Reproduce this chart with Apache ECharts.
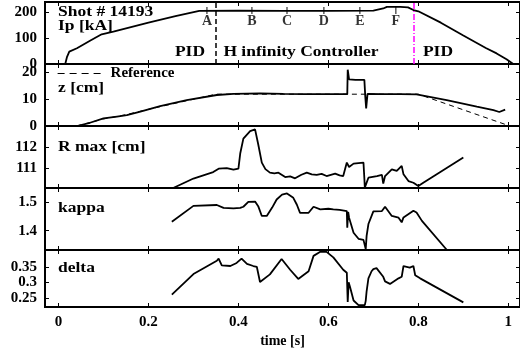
<!DOCTYPE html>
<html>
<head>
<meta charset="utf-8">
<script src="https://cdn.jsdelivr.net/npm/echarts@6/dist/echarts.min.js"></script>
<style>
  html, body { margin: 0; padding: 0; background: #fff; }
  #chart { width: 520px; height: 349px; }
</style>
</head>
<body>
<div id="chart"></div>
<script>
// tick labels
const xTicks = [0, 0.2, 0.4, 0.6, 0.8, 1]
const ipTicks = [0, 100, 200]
const zTicks = [0, 10, 20]
const rTicks = [111, 112]
const kTicks = [1.4, 1.5]
const dTicks = [0.25, 0.3, 0.35]

// [time s, value]
const ipData = [[0.015,0],[0.019,28],[0.024,48],[0.026,44],[0.028,54],[0.041,61],[0.07,90],[0.096,115],[0.122,125],[0.2,160],[0.26,185],[0.313,206],[0.4,207],[0.5,206],[0.6,206],[0.7,207],[0.722,215],[0.73,221],[0.76,221],[0.777,219],[0.789,209],[0.8,204],[0.85,160],[0.9,110],[0.95,62],[0.974,41],[0.996,18],[1.011,0]]
const zData = [[0.041,0],[0.07,1.2],[0.1,2.8],[0.13,3.5],[0.152,4.0],[0.18,5.2],[0.226,7.4],[0.285,9.6],[0.352,11.5],[0.389,11.9],[0.448,12.1],[0.5,11.9],[0.55,11.8],[0.6,11.8],[0.642,11.8],[0.643,20.9],[0.646,17.3],[0.66,17.1],[0.68,17.1],[0.682,11],[0.684,6.5],[0.687,11.9],[0.72,11.8],[0.76,11.8],[0.796,11.7],[0.863,9.6],[0.93,7.2],[0.967,5.9],[0.98,5.2],[0.993,6.1]]
const refData = [[0.04,0],[0.1,2.6],[0.15,4.2],[0.2,6.2],[0.35,11.8],[0.8,11.8],[1.0,0.2]]
const rData = [[0.255,110.05],[0.3,110.5],[0.344,110.81],[0.356,110.97],[0.374,111.0],[0.389,110.92],[0.4,110.97],[0.404,111.69],[0.411,112.4],[0.426,112.76],[0.437,112.84],[0.441,112.84],[0.444,112.13],[0.452,111.26],[0.46,110.95],[0.47,110.78],[0.48,110.75],[0.489,110.78],[0.504,110.57],[0.515,110.6],[0.526,110.51],[0.54,110.68],[0.552,110.78],[0.563,110.7],[0.574,110.67],[0.585,110.72],[0.596,110.62],[0.615,110.73],[0.625,110.65],[0.633,110.62],[0.636,110.7],[0.641,111.26],[0.646,111.05],[0.656,111.21],[0.678,111.26],[0.68,110.5],[0.681,110.07],[0.684,110.07],[0.689,110.54],[0.708,110.62],[0.719,110.67],[0.722,110.26],[0.726,110.62],[0.741,110.94],[0.752,110.86],[0.763,111.1],[0.767,110.7],[0.778,110.38],[0.789,110.3],[0.8,110.14],[0.804,110.22],[0.811,110.3],[0.9,111.5]]
const kData = [[0.252,1.431],[0.3,1.486],[0.352,1.489],[0.356,1.494],[0.367,1.479],[0.389,1.477],[0.404,1.479],[0.411,1.483],[0.422,1.5],[0.437,1.501],[0.444,1.485],[0.452,1.451],[0.463,1.451],[0.475,1.48],[0.485,1.508],[0.497,1.525],[0.508,1.529],[0.522,1.514],[0.53,1.49],[0.537,1.462],[0.556,1.462],[0.567,1.483],[0.582,1.474],[0.6,1.476],[0.611,1.474],[0.625,1.472],[0.641,1.468],[0.642,1.41],[0.644,1.465],[0.646,1.445],[0.656,1.393],[0.667,1.372],[0.678,1.368],[0.682,1.37],[0.683,1.336],[0.685,1.382],[0.689,1.423],[0.7,1.467],[0.704,1.468],[0.719,1.468],[0.726,1.483],[0.741,1.451],[0.756,1.445],[0.759,1.44],[0.763,1.429],[0.767,1.446],[0.789,1.469],[0.796,1.463],[0.808,1.434],[0.863,1.334]]
const dData = [[0.252,0.26],[0.3,0.327],[0.352,0.37],[0.356,0.377],[0.363,0.355],[0.382,0.353],[0.396,0.363],[0.407,0.377],[0.419,0.36],[0.433,0.353],[0.441,0.35],[0.448,0.301],[0.47,0.326],[0.496,0.376],[0.515,0.341],[0.533,0.311],[0.556,0.336],[0.567,0.386],[0.582,0.399],[0.596,0.399],[0.611,0.381],[0.633,0.341],[0.641,0.331],[0.643,0.236],[0.645,0.3],[0.648,0.286],[0.656,0.241],[0.667,0.226],[0.681,0.226],[0.683,0.24],[0.685,0.271],[0.689,0.313],[0.696,0.336],[0.7,0.343],[0.707,0.346],[0.722,0.318],[0.726,0.303],[0.737,0.295],[0.756,0.313],[0.763,0.318],[0.767,0.353],[0.781,0.348],[0.789,0.353],[0.793,0.323],[0.804,0.313],[0.9,0.235]]

// controller phases
const markNames = ['A', 'B', 'C', 'D', 'E', 'F']
const markTimes = [0.33, 0.43, 0.508, 0.59, 0.67, 0.75]
const markLevel = 207
const hinfStart = 0.35
const pidReturn = 0.79

const font = '"Liberation Serif", "Times New Roman", serif'
const tops = [2, 64, 126, 188, 250]
const ranges = [[0, 240], [0, 23], [110.05, 113], [1.333, 1.548], [0.22, 0.405]]
const yTicks = [ipTicks, zTicks, rTicks, kTicks, dTicks]

const grid = [], xAxis = [], yAxis = []
tops.forEach((top, i) => {
  grid.push({ left: 45, right: 0, top: top, height: 62, show: true, borderColor: '#000', borderWidth: 2 })
  const last = i === tops.length - 1
  const tick = { inside: true, length: 4, lineStyle: { color: '#000', width: 1 }, customValues: xTicks }
  const noLine = { show: false, onZero: false }
  xAxis.push({
    type: 'value', gridIndex: i, min: -0.03, max: 1.026, position: 'bottom',
    axisLine: noLine, splitLine: { show: false }, axisTick: tick,
    axisLabel: { show: last, customValues: xTicks, margin: 8, color: '#000', fontFamily: font, fontWeight: 'bold', fontSize: 15 },
    name: last ? 'time [s]' : '', nameLocation: 'middle', nameGap: 27,
    nameTextStyle: { color: '#000', fontFamily: font, fontWeight: 'bold', fontSize: 14 },
  })
  xAxis.push({
    type: 'value', gridIndex: i, min: -0.03, max: 1.026, position: 'top',
    axisLine: noLine, splitLine: { show: false }, axisTick: tick, axisLabel: { show: false },
  })
  const ytick = { inside: true, length: 4, lineStyle: { color: '#000', width: 1 }, customValues: yTicks[i] }
  yAxis.push({
    type: 'value', gridIndex: i, min: ranges[i][0], max: ranges[i][1], position: 'left',
    axisLine: noLine, splitLine: { show: false }, axisTick: ytick,
    axisLabel: { customValues: yTicks[i], margin: 8, color: '#000', fontFamily: font, fontWeight: 'bold', fontSize: 15 },
  })
  yAxis.push({
    type: 'value', gridIndex: i, min: ranges[i][0], max: ranges[i][1], position: 'right',
    axisLine: noLine, splitLine: { show: false }, axisTick: ytick, axisLabel: { show: false },
  })
})

const line = (name, data, i, extra) => Object.assign({
  name: name, type: 'line', data: data, xAxisIndex: 2 * i, yAxisIndex: 2 * i,
  symbol: 'none', animation: false, color: '#000', lineStyle: { color: '#000', width: 1.8 },
}, extra || {})

const txt = (text, x, y, align) => ({
  type: 'text', x: x, y: y, scaleX: 1.25,
  style: { text: text, fill: '#000', font: 'bold 14px ' + font, textAlign: align || 'left', textVerticalAlign: 'middle' },
})

const option = {
  animation: false,
  grid: grid,
  xAxis: xAxis,
  yAxis: yAxis,
  legend: {
    data: ['Reference'], left: 57, top: 66, itemWidth: 48, itemHeight: 10, itemGap: 6, padding: 0,
    itemStyle: { opacity: 0 },
    lineStyle: { type: [7, 5], width: 1.2 },
    textStyle: { color: '#000', fontFamily: font, fontWeight: 'bold', fontSize: 15 },
  },
  series: [
    line('Ip', ipData, 0, {
      markLine: {
        symbol: 'none', silent: true, label: { show: false },
        data: [
          { xAxis: hinfStart, lineStyle: { color: '#000', type: [5, 3], width: 1.5 } },
          { xAxis: pidReturn, lineStyle: { color: '#ff00ff', type: [6, 2, 1, 2], width: 1.5 } },
        ],
      },
    }),
    {
      name: 'marks', type: 'scatter', xAxisIndex: 0, yAxisIndex: 0, symbol: 'rect', symbolSize: [1.2, 7],
      itemStyle: { color: '#000' }, animation: false,
      data: markTimes.map((t, k) => ({ value: [t, markLevel], name: markNames[k] })),
      label: { show: true, position: 'bottom', distance: 0, formatter: '{b}', color: '#000', fontFamily: font, fontWeight: 'bold', fontSize: 14 },
    },
    line('Reference', refData, 1, { lineStyle: { color: '#000', width: 1, type: [5, 4] } }),
    line('z', zData, 1),
    line('R max', rData, 2),
    line('kappa', kData, 3),
    line('delta', dData, 4),
  ],
  graphic: [
    txt('Shot # 14193', 58, 12),
    txt('Ip [kA]', 58, 26),
    txt('PID', 190, 52, 'center'),
    txt('H infinity Controller', 301, 52, 'center'),
    txt('PID', 438, 52, 'center'),
    txt('z [cm]', 58, 88),
    txt('R max [cm]', 58, 147),
    txt('kappa', 58, 208),
    txt('delta', 58, 268),
  ],
}

const myChart = echarts.init(document.getElementById('chart'))
myChart.setOption(option)
</script>
</body>
</html>
